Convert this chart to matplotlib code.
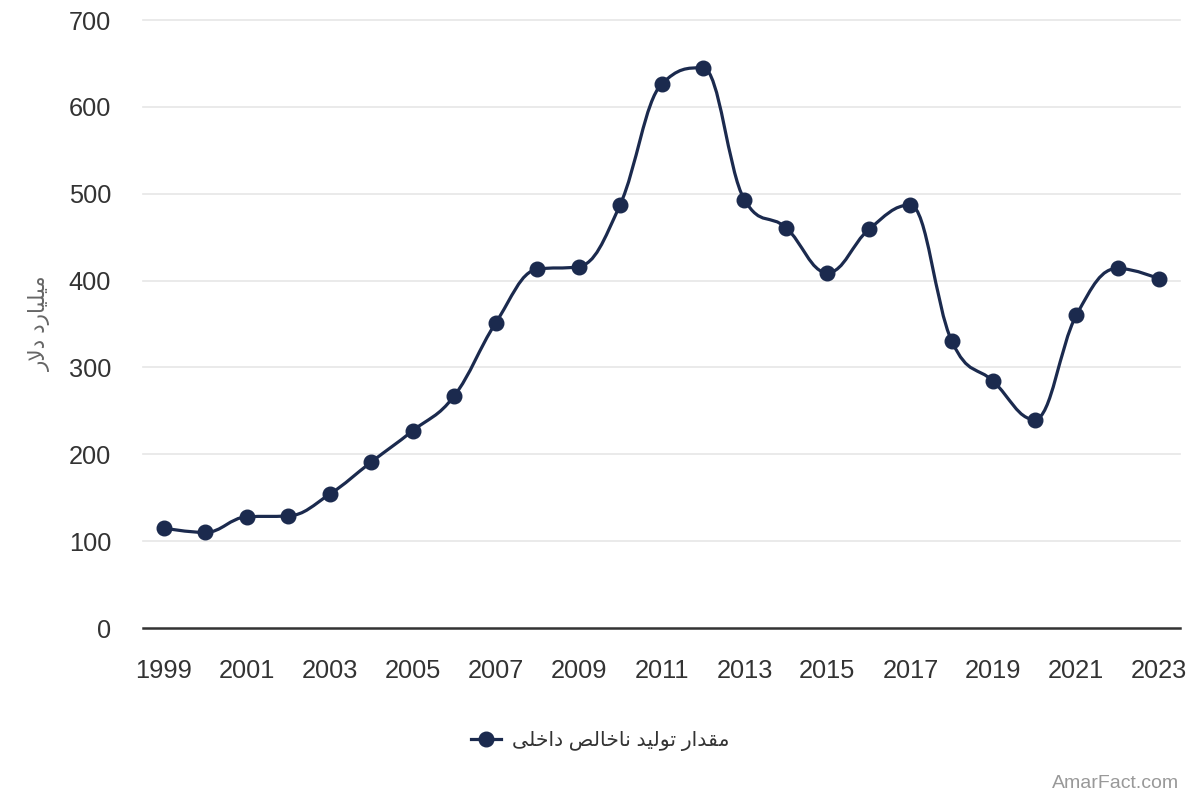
import matplotlib
matplotlib.use("Agg")
import matplotlib.pyplot as plt
from matplotlib.path import Path
from matplotlib.patches import PathPatch
from matplotlib.lines import Line2D

years = list(range(1999, 2024))
gdp = [115, 110, 128, 129, 154, 191, 227, 267, 351, 413, 416, 487,
       626, 645, 493, 461, 409, 459, 487, 330, 284, 240, 360, 414, 402]
xticks = list(range(1999, 2024, 2))
yticks = [0, 100, 200, 300, 400, 500, 600, 700]
legend_label = "مقدار تولید ناخالص داخلی"
y_label = "میلیارد دلار"
watermark = "AmarFact.com"

NAVY = "#1b2a4e"

# --- minimal Persian shaping (presentation forms + visual order) ---
FORMS = {
    'ا': (0xFE8D, 0xFE8E, None, None),
    'د': (0xFEA9, 0xFEAA, None, None),
    'ر': (0xFEAD, 0xFEAE, None, None),
    'و': (0xFEED, 0xFEEE, None, None),
    'م': (0xFEE1, 0xFEE2, 0xFEE3, 0xFEE4),
    'ق': (0xFED5, 0xFED6, 0xFED7, 0xFED8),
    'ت': (0xFE95, 0xFE96, 0xFE97, 0xFE98),
    'ل': (0xFEDD, 0xFEDE, 0xFEDF, 0xFEE0),
    'ی': (0xFEEF, 0xFEF0, 0xFEF3, 0xFEF4),
    'ن': (0xFEE5, 0xFEE6, 0xFEE7, 0xFEE8),
    'خ': (0xFEA5, 0xFEA6, 0xFEA7, 0xFEA8),
    'ص': (0xFEB9, 0xFEBA, 0xFEBB, 0xFEBC),
}


def shape(text):
    out = []
    i = 0
    n = len(text)
    while i < n:
        c = text[i]
        if c not in FORMS:
            out.append(c)
            i += 1
            continue
        prev = text[i - 1] if i > 0 else None
        joins_prev = prev in FORMS and FORMS[prev][2] is not None
        if c == 'ل' and i + 1 < n and text[i + 1] == 'ا':
            out.append(chr(0xFEFC if joins_prev else 0xFEFB))
            i += 2
            continue
        nxt = text[i + 1] if i + 1 < n else None
        joins_next = FORMS[c][2] is not None and nxt in FORMS
        iso, fin, ini, med = FORMS[c]
        if joins_prev and joins_next:
            f = med
        elif joins_prev:
            f = fin
        elif joins_next:
            f = ini
        else:
            f = iso
        out.append(chr(f))
        i += 1
    return "".join(out[::-1])


# --- Highcharts-style spline ---
def spline_path(xs, ys, smoothing=1.5):
    denom = smoothing + 1
    n = len(xs)
    right = [None] * n
    verts = [(xs[0], ys[0])]
    codes = [Path.MOVETO]
    for i in range(1, n):
        px, py = xs[i], ys[i]
        lcx, lcy = px, py
        if i < n - 1:
            lx, ly = xs[i - 1], ys[i - 1]
            nx, ny = xs[i + 1], ys[i + 1]
            lcx = (smoothing * px + lx) / denom
            lcy = (smoothing * py + ly) / denom
            rcx = (smoothing * px + nx) / denom
            rcy = (smoothing * py + ny) / denom
            corr = 0
            if rcx != lcx:
                corr = (rcy - lcy) * (rcx - px) / (rcx - lcx) + py - rcy
            lcy += corr
            rcy += corr
            if lcy > ly and lcy > py:
                lcy = max(ly, py); rcy = 2 * py - lcy
            elif lcy < ly and lcy < py:
                lcy = min(ly, py); rcy = 2 * py - lcy
            if rcy > ny and rcy > py:
                rcy = max(ny, py); lcy = 2 * py - rcy
            elif rcy < ny and rcy < py:
                rcy = min(ny, py); lcy = 2 * py - rcy
            right[i] = (rcx, rcy)
        r0 = right[i - 1] if right[i - 1] is not None else (xs[i - 1], ys[i - 1])
        verts += [r0, (lcx, lcy), (px, py)]
        codes += [Path.CURVE4] * 3
    return Path(verts, codes)


plt.rcParams['font.family'] = ['Liberation Sans', 'DejaVu Sans']

fig = plt.figure(figsize=(12, 8), dpi=100)
ax = fig.add_axes([143 / 1200, 1 - 628 / 800, (1180 - 143) / 1200, (628 - 20) / 800])

ax.set_xlim(1998.5, 2023.5)
ax.set_ylim(0, 700)

for yv in yticks[1:]:
    ax.axhline(yv, color="#e6e6e6", lw=1.2, zorder=0, clip_on=False)

patch = PathPatch(spline_path(years, gdp), facecolor='none', edgecolor=NAVY,
                  lw=2.3, zorder=3, clip_on=False, capstyle='round', joinstyle='round')
ax.add_patch(patch)
ax.plot(years, gdp, linestyle='none', marker='o', markersize=10.5,
        color=NAVY, zorder=4, clip_on=False)

for s in ['top', 'right', 'left']:
    ax.spines[s].set_visible(False)
ax.spines['bottom'].set_color('#333333')
ax.spines['bottom'].set_linewidth(1.8)

ax.set_xticks(xticks)
ax.set_xticklabels([str(x) for x in xticks])
ax.set_yticks(yticks)
ax.set_yticklabels([str(y) for y in yticks])
ax.tick_params(axis='x', length=0, pad=22, labelsize=18.3, colors='#333333')
ax.tick_params(axis='y', length=0, pad=23, labelsize=18.3, colors='#333333')

fig.text(40 / 1200, 1 - 323 / 800, shape(y_label), rotation=90, ha='center', va='center',
         fontsize=15.5, color='#666666')

handle = Line2D([0], [0], color=NAVY, lw=2.3, marker='o', markersize=10.5)
fig.legend([handle], [shape(legend_label)], loc='center', bbox_to_anchor=(0.5, 1 - 741 / 800),
           frameon=False, fontsize=14.7, handlelength=1.5, handletextpad=0.5,
           labelcolor='#333333')

fig.text(1179 / 1200, 1 - 783 / 800, watermark, ha='right', va='center', fontsize=14,
         color='#999999')

fig.savefig("out.png", dpi=100)
